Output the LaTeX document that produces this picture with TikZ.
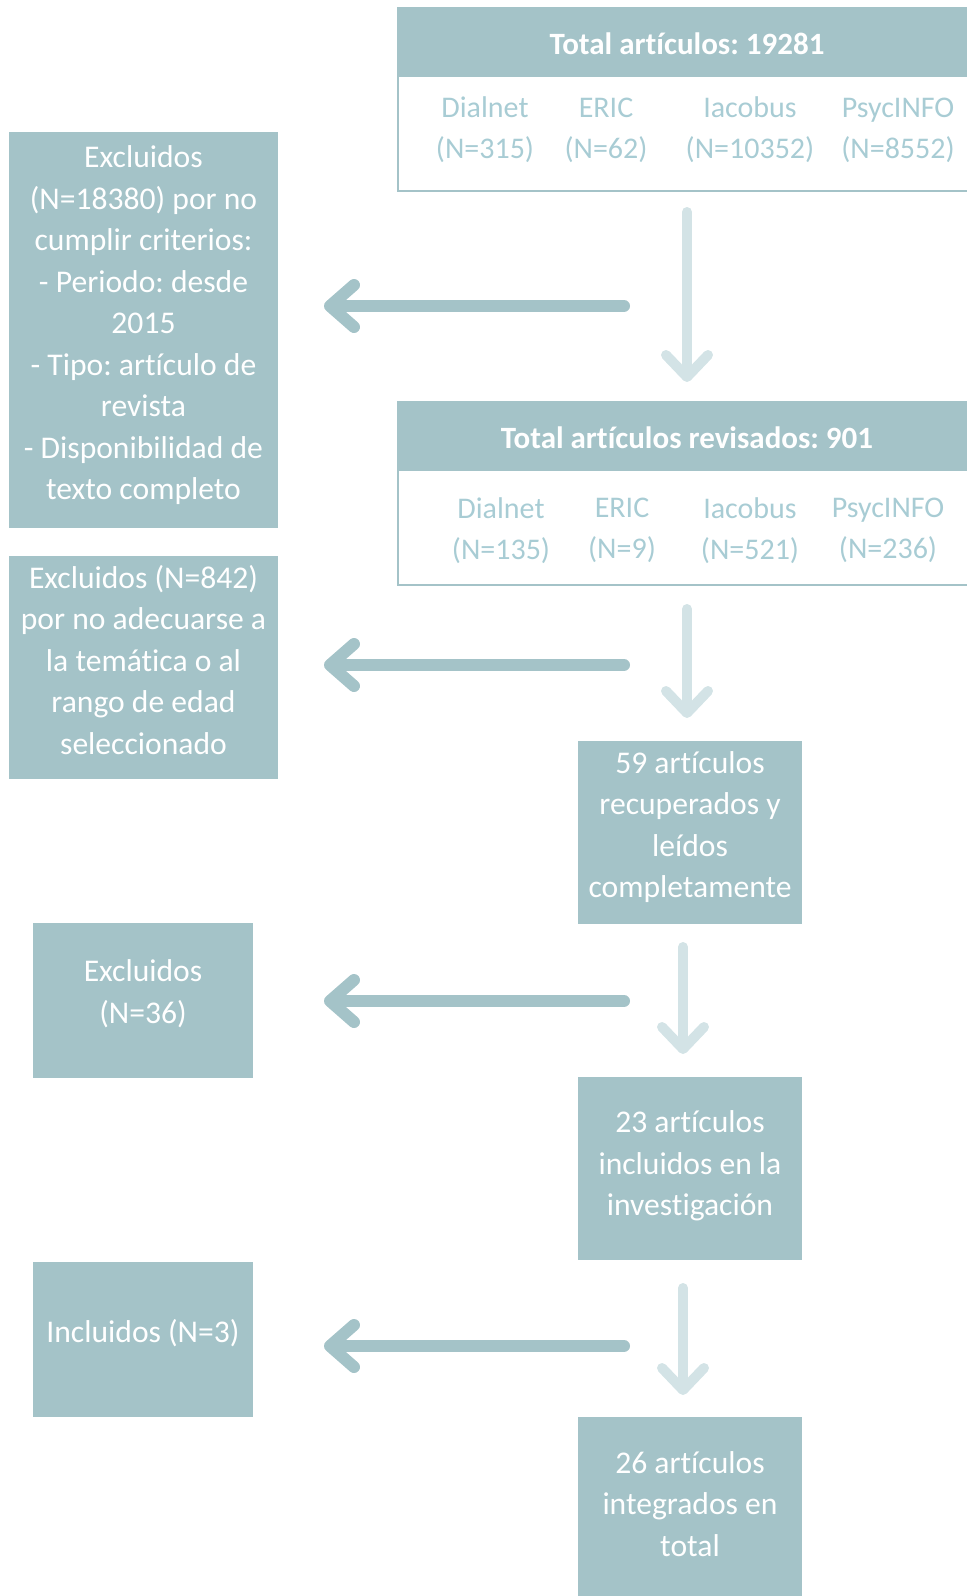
\documentclass[tikz,border=0pt]{standalone}
\usepackage{fontspec}
\setmainfont[Ligatures=NoCommon]{Carlito}
\usetikzlibrary{arrows.meta}
\definecolor{boxblue}{HTML}{A4C3C8}
\definecolor{paleblue}{HTML}{D3E3E6}
\definecolor{srcblue}{HTML}{A8CCD4}
\newcommand{\lift}[1]{\rule[-#1]{0pt}{#1}}
\frenchspacing

\begin{document}
\begin{tikzpicture}
  [x=0.5pt,y=-0.5pt,
   box/.style={fill=boxblue,inner sep=0pt,text=white,align=center,
     font=\fontsize{15.8}{20.75}\selectfont},
   frame/.style={draw=boxblue,line width=1.2pt,inner sep=0pt,
     minimum width=289pt,minimum height=91.5pt},
   head/.style={fill=boxblue,inner sep=0pt,minimum width=289pt,minimum height=35pt,
     text height=13.5pt,text depth=1.5pt,
     text=white,font=\bfseries\fontsize{15.5}{18}\selectfont},
   src/.style={text=srcblue,align=center,font=\fontsize{15}{20.5}\selectfont},
   down/.style={draw=paleblue,line width=5pt,line cap=round,
     -{Straight Barb[length=11pt,width=21pt,round]}},
   side/.style={draw=boxblue,line width=6pt,line cap=round,
     -{Straight Barb[length=12pt,width=21pt,round]}}]
  \useasboundingbox (0,0) rectangle (966,1596);

  % database boxes
  \node[frame] (search) at (687,99.5) {};
  \node[head] (searchhead) at (687,42) {Total artículos: 19281};
  \foreach \x/\db/\n in {485/Dialnet/315,606/ERIC/62,750/Iacobus/10352,898/PsycINFO/8552}
    \node[src] (s\db) at (\x,130) {\db\\(N=\n)};

  \node[frame] (review) at (687,493.5) {};
  \node[head] (reviewhead) at (687,436) {Total artículos revisados: 901};
  \foreach \x/\db/\n in {501/Dialnet/135,622/ERIC/9,750/Iacobus/521,888/PsycINFO/236}
    \node[src] (r\db) at (\x,530.5) {\db\\(N=\n)};

  % right column
  \node[box,minimum width=112pt,minimum height=91.5pt] (read) at (690,832.5)
    {59 artículos\\recuperados y\\leídos\\completamente\lift{8pt}};
  \node[box,minimum width=112pt,minimum height=91.5pt] (included) at (690,1168.5)
    {23 artículos\\incluidos en la\\investigación\lift{5pt}};
  \node[box,minimum width=112pt,minimum height=91pt] (total) at (690,1508)
    {26 artículos\\integrados en\\total\lift{4pt}};

  % left column
  \node[box,minimum width=134.5pt,minimum height=198pt] (ex1) at (143.5,330)
    {Excluidos\\(N=18380) por no\\cumplir criterios:\\- Periodo: desde\\2015\\
     - Tipo: artículo de\\revista\\- Disponibilidad de\\texto completo\lift{7pt}};
  \node[box,minimum width=134.5pt,minimum height=111.5pt] (ex2) at (143.5,667.5)
    {Excluidos (N=842)\\por no adecuarse a\\la temática o al\\rango de edad\\seleccionado\lift{8pt}};
  \node[box,minimum width=110pt,minimum height=77.5pt] (ex3) at (143,1000.5)
    {Excluidos\\(N=36)\lift{9pt}};
  \node[box,minimum width=110pt,minimum height=77.5pt] (add) at (143,1339.5)
    {Incluidos (N=3)\lift{9pt}};

  % arrows
  \foreach \i/\x/\a/\b in {1/687/212/382,2/687/609/718,3/683/947/1054,4/683/1288/1395}{
    \coordinate (d\i a) at (\x,\a);
    \coordinate (d\i b) at (\x,\b);
    \draw[down] (d\i a) -- (d\i b);
  }
  \foreach \i/\y in {1/306,2/665,3/1001,4/1346}{
    \coordinate (e\i a) at (624,\y);
    \coordinate (e\i b) at (324,\y);
    \draw[side] (e\i a) -- (e\i b);
  }
\end{tikzpicture}
\end{document}
